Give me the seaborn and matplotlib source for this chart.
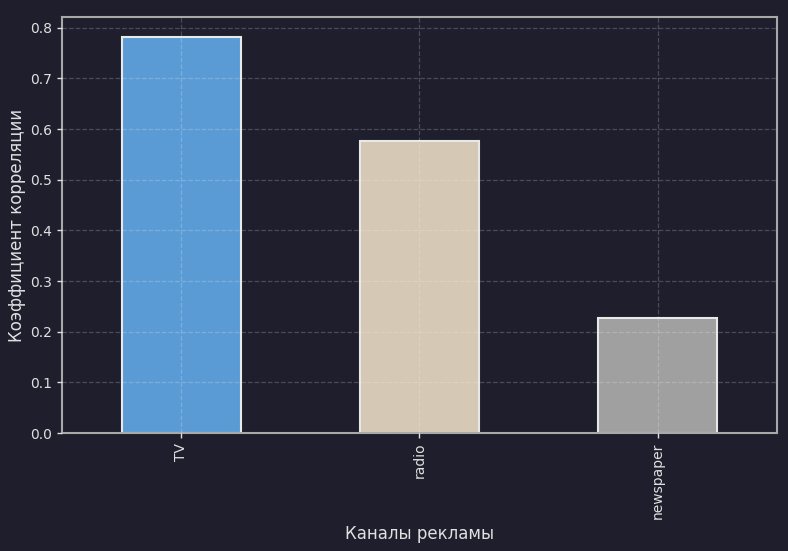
import pandas as pd
import seaborn as sns
import matplotlib.pyplot as plt

channels = ['TV', 'radio', 'newspaper']
corr = [0.782, 0.576, 0.228]
colors = ['#5b9bd5', '#d5c8b4', '#a0a0a0']

df = pd.DataFrame({'channel': channels, 'corr': corr})

bg = '#1f1e2d'
txt = '#e0e0e0'

sns.set_theme(style='dark')
plt.rcParams['font.family'] = ['DejaVu Sans']

fig, ax = plt.subplots(figsize=(7.88, 5.51), dpi=100)
fig.patch.set_facecolor(bg)
ax.set_facecolor(bg)

sns.barplot(data=df, x='channel', y='corr', hue='channel', palette=colors,
            width=0.5, edgecolor='#e8e8e8', linewidth=1.5, legend=False,
            saturation=1, ax=ax)

ax.set_xlim(-0.5, 2.5)
ax.set_ylim(0, 0.8211)
ax.set_axisbelow(False)
ax.grid(True, linestyle='--', color='white', alpha=0.2, linewidth=0.9)

for s in ax.spines.values():
    s.set_visible(True)
    s.set_color('#a8a8a8')
    s.set_linewidth(1.5)

ax.tick_params(colors=txt, labelsize=10, length=3.5, width=1,
               bottom=True, left=True)
ax.tick_params(axis='x', labelrotation=90)
ax.set_xlabel('Каналы рекламы', color=txt, fontsize=12, labelpad=4)
ax.set_ylabel('Коэффициент корреляции', color=txt, fontsize=12, labelpad=3)

fig.subplots_adjust(left=0.0787, right=0.986, top=0.969, bottom=0.214)
plt.savefig('out.png', facecolor=bg)
